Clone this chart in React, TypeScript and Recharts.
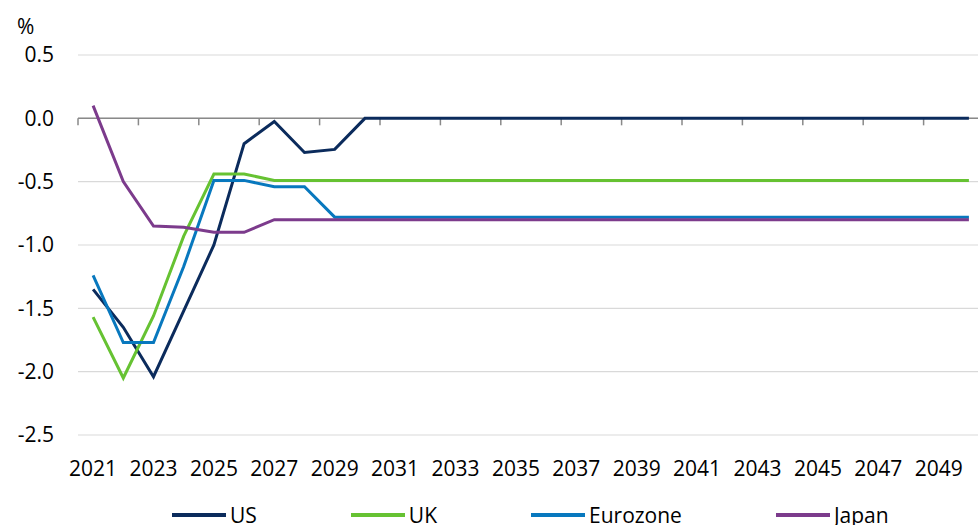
// Projected rates by economy, 2021-2050 (line chart)

import { LineChart, Line, XAxis, YAxis, CartesianGrid, ReferenceLine } from 'recharts';

const years = [
  2021, 2022, 2023, 2024, 2025, 2026, 2027, 2028, 2029, 2030,
  2031, 2032, 2033, 2034, 2035, 2036, 2037, 2038, 2039, 2040,
  2041, 2042, 2043, 2044, 2045, 2046, 2047, 2048, 2049, 2050,
];

const us = [
  -1.35, -1.65, -2.04, -1.52, -1.0, -0.2, -0.025, -0.27, -0.245, 0,
  0, 0, 0, 0, 0, 0, 0, 0, 0, 0,
  0, 0, 0, 0, 0, 0, 0, 0, 0, 0,
];
const uk = [
  -1.57, -2.05, -1.56, -0.93, -0.44, -0.44, -0.49, -0.49, -0.49, -0.49,
  -0.49, -0.49, -0.49, -0.49, -0.49, -0.49, -0.49, -0.49, -0.49, -0.49,
  -0.49, -0.49, -0.49, -0.49, -0.49, -0.49, -0.49, -0.49, -0.49, -0.49,
];
const eurozone = [
  -1.24, -1.77, -1.77, -1.17, -0.49, -0.49, -0.54, -0.54, -0.78, -0.78,
  -0.78, -0.78, -0.78, -0.78, -0.78, -0.78, -0.78, -0.78, -0.78, -0.78,
  -0.78, -0.78, -0.78, -0.78, -0.78, -0.78, -0.78, -0.78, -0.78, -0.78,
];
const japan = [
  0.1, -0.5, -0.85, -0.86, -0.9, -0.9, -0.8, -0.8, -0.8, -0.8,
  -0.8, -0.8, -0.8, -0.8, -0.8, -0.8, -0.8, -0.8, -0.8, -0.8,
  -0.8, -0.8, -0.8, -0.8, -0.8, -0.8, -0.8, -0.8, -0.8, -0.8,
];

const yTicks = [-2.5, -2.0, -1.5, -1.0, -0.5, 0.0, 0.5];
const xTicks = [2021, 2023, 2025, 2027, 2029, 2031, 2033, 2035, 2037, 2039, 2041, 2043, 2045, 2047, 2049];

const series = [
  { key: 'us', name: 'US', color: '#0b2b5c', values: us },
  { key: 'uk', name: 'UK', color: '#66c232', values: uk },
  { key: 'eurozone', name: 'Eurozone', color: '#0878be', values: eurozone },
  { key: 'japan', name: 'Japan', color: '#7c3b8c', values: japan },
];

const data = years.map((year, i) => {
  const row: Record<string, number> = { year };
  series.forEach(s => { row[s.key] = s.values[i]; });
  return row;
});

// category edges, Excel-style axis puts its marks between the years
const X_MIN = years[0] - 0.5;
const X_MAX = years[years.length - 1] + 0.5;
const FONT = '"Open Sans", "DejaVu Sans", sans-serif';

/** Zero line drawn as the category axis, with tick marks every second year boundary. */
function ZeroAxis(props: { x1?: number; x2?: number; y1?: number }) {
  const { x1 = 0, x2 = 0, y1 = 0 } = props;
  const toX = (v: number) => x1 + ((v - X_MIN) / (X_MAX - X_MIN)) * (x2 - x1);
  const marks: number[] = [];
  for (let b = X_MIN; b <= X_MAX; b += 2) marks.push(toX(b));
  return (
    <g>
      <line x1={x1} x2={x2} y1={y1} y2={y1} stroke="#898989" strokeWidth={1.5} />
      {marks.map((x, i) => (
        <line key={i} x1={x} x2={x} y1={y1} y2={y1 + 7} stroke="#898989" strokeWidth={1.5} />
      ))}
    </g>
  );
}

export default function App() {
  return (
    <div style={{ position: 'absolute', left: 0, top: 0, width: 978, height: 525, overflow: 'hidden', background: '#fff', fontFamily: FONT }}>
      <div style={{ position: 'absolute', left: 17, top: 12, fontSize: 21, color: '#000' }}>%</div>
      <LineChart width={984} height={525} data={data} margin={{ top: 55, right: 0, bottom: 45, left: 8 }}>
        <CartesianGrid vertical={false} stroke="#d9d9d9" strokeWidth={1.2} />
        <XAxis
          dataKey="year"
          type="number"
          domain={[X_MIN, X_MAX]}
          ticks={xTicks}
          allowDataOverflow
          axisLine={false}
          tickLine={false}
          tickSize={0}
          tickMargin={26}
          height={45}
          tick={{ fill: '#000', fontSize: 21, fontFamily: FONT }}
        />
        <YAxis
          domain={[-2.5, 0.5]}
          ticks={yTicks}
          tickFormatter={v => Number(v).toFixed(1)}
          axisLine={false}
          tickLine={false}
          tickSize={0}
          tickMargin={24}
          width={70}
          tick={{ fill: '#000', fontSize: 21, fontFamily: FONT }}
        />
        <ReferenceLine y={0} shape={<ZeroAxis />} />
        {series.map(s => (
          <Line
            key={s.key}
            type="linear"
            dataKey={s.key}
            name={s.name}
            stroke={s.color}
            strokeWidth={3}
            dot={false}
            isAnimationActive={false}
          />
        ))}
      </LineChart>
      <div style={{ position: 'absolute', left: 172, top: 501, display: 'flex', alignItems: 'center', fontSize: 21, color: '#000' }}>
        {series.map(s => (
          <div key={s.key} style={{ display: 'flex', alignItems: 'center', marginRight: 94 }}>
            <span style={{ display: 'inline-block', width: 54, height: 3.5, background: s.color, marginRight: 4 }} />
            <span>{s.name}</span>
          </div>
        ))}
      </div>
    </div>
  );
}
